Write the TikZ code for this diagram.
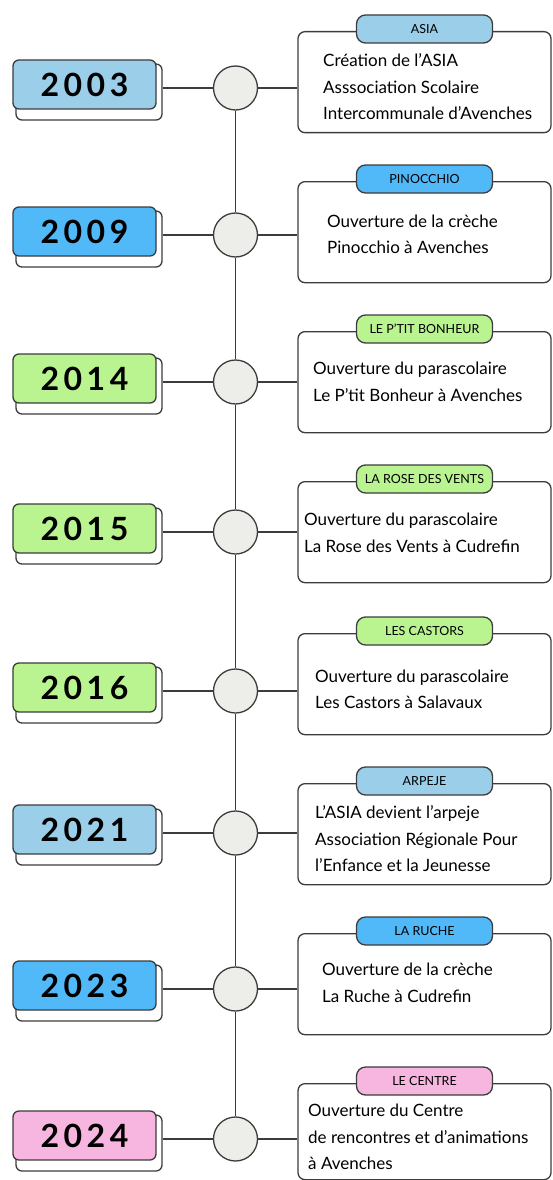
\documentclass[tikz,border=0pt]{standalone}
\usepackage{fontspec}
\setmainfont{Lato}
\newfontfamily\yearfont{Lato}[LetterSpace=14]
\definecolor{asiablue}{RGB}{155,206,233}
\definecolor{skyblue}{RGB}{82,185,249}
\definecolor{leafgreen}{RGB}{185,244,144}
\definecolor{rosepink}{RGB}{247,182,223}
\definecolor{dotgray}{RGB}{237,237,233}
\definecolor{inkgray}{RGB}{60,60,60}
\begin{document}
\begin{tikzpicture}[x=1pt,y=-1pt,
  inkline/.style={draw=inkgray,line width=1.3pt},
  shadowbox/.style={inkline,fill=white,rounded corners=6pt,minimum width=146,minimum height=56},
  yearbox/.style={inkline,rounded corners=6pt,minimum width=143,minimum height=49,font=\yearfont\bfseries\fontsize{32}{32}\selectfont},
  yeardot/.style={inkline,circle,fill=dotgray,minimum size=44,inner sep=0pt},
  card/.style={inkline,rounded corners=7pt,minimum width=253,minimum height=101,anchor=north},
  tagbox/.style={inkline,rounded corners=9pt,minimum width=136,minimum height=28,inner sep=0pt,font=\fontsize{12.5}{12.5}\selectfont},
  desc/.style={anchor=west,align=left,inner sep=0pt,font=\fontsize{17}{26.5}\selectfont}]
\useasboundingbox (0,0) rectangle (552,1180);

\node[shadowbox] (s1) at (89,92) {};
\node[yearbox,fill=asiablue] (y1) at (84.5,84.5) {2003};
\node[yeardot] (c1) at (235.5,88) {};
\node[card] (b1) at (424.5,31) {};
\node[tagbox,fill=asiablue] (t1) at ([yshift=2pt]b1.north) {ASIA};
\node[desc] (d1) at (323,87) {Création de l’ASIA\\Asssociation Scolaire\\Intercommunale d’Avenches};

\node[shadowbox] (s2) at (89,239) {};
\node[yearbox,fill=skyblue] (y2) at (84.5,231.5) {2009};
\node[yeardot] (c2) at (235.5,235) {};
\node[card] (b2) at (424.5,181) {};
\node[tagbox,fill=skyblue] (t2) at ([yshift=2pt]b2.north) {PINOCCHIO};
\node[desc] (d2) at (327,234.5) {Ouverture de la crèche\\Pinocchio à Avenches};

\node[shadowbox] (s3) at (89,386) {};
\node[yearbox,fill=leafgreen] (y3) at (84.5,378.5) {2014};
\node[yeardot] (c3) at (235.5,382) {};
\node[card] (b3) at (424.5,331) {};
\node[tagbox,fill=leafgreen] (t3) at ([yshift=2pt]b3.north) {LE P’TIT BONHEUR};
\node[desc] (d3) at (313,382) {Ouverture du parascolaire\\Le P’tit Bonheur à Avenches};

\node[shadowbox] (s4) at (89,536) {};
\node[yearbox,fill=leafgreen] (y4) at (84.5,528.5) {2015};
\node[yeardot] (c4) at (235.5,532) {};
\node[card] (b4) at (424.5,481) {};
\node[tagbox,fill=leafgreen] (t4) at ([yshift=2pt]b4.north) {LA ROSE DES VENTS};
\node[desc] (d4) at (304,533) {Ouverture du parascolaire\\La Rose des Vents à Cudrefin};

\node[shadowbox] (s5) at (89,695) {};
\node[yearbox,fill=leafgreen] (y5) at (84.5,687.5) {2016};
\node[yeardot] (c5) at (235.5,691) {};
\node[card] (b5) at (424.5,633) {};
\node[tagbox,fill=leafgreen] (t5) at ([yshift=2pt]b5.north) {LES CASTORS};
\node[desc] (d5) at (315,689.5) {Ouverture du parascolaire\\Les Castors à Salavaux};

\node[shadowbox] (s6) at (89,837) {};
\node[yearbox,fill=asiablue] (y6) at (84.5,829.5) {2021};
\node[yeardot] (c6) at (235.5,833) {};
\node[card] (b6) at (424.5,783) {};
\node[tagbox,fill=asiablue] (t6) at ([yshift=2pt]b6.north) {ARPEJE};
\node[desc] (d6) at (315,839) {L’ASIA devient l’arpeje\\Association Régionale Pour\\l’Enfance et la Jeunesse};

\node[shadowbox] (s7) at (89,993) {};
\node[yearbox,fill=skyblue] (y7) at (84.5,985.5) {2023};
\node[yeardot] (c7) at (235.5,989) {};
\node[card] (b7) at (424.5,933) {};
\node[tagbox,fill=skyblue] (t7) at ([yshift=2pt]b7.north) {LA RUCHE};
\node[desc] (d7) at (322,983) {Ouverture de la crèche\\La Ruche à Cudrefin};

\node[shadowbox] (s8) at (89,1143) {};
\node[yearbox,fill=rosepink] (y8) at (84.5,1135.5) {2024};
\node[yeardot] (c8) at (235.5,1139) {};
\node[card,minimum height=96] (b8) at (424.5,1083) {};
\node[tagbox,fill=rosepink] (t8) at ([yshift=2pt]b8.north) {LE CENTRE};
\node[desc] (d8) at (308,1137) {Ouverture du Centre\\de rencontres et d’animations\\à Avenches};

\draw[inkline] (c1.south) -- (c2.north) (c2.south) -- (c3.north) (c3.south) -- (c4.north)
  (c4.south) -- (c5.north) (c5.south) -- (c6.north) (c6.south) -- (c7.north) (c7.south) -- (c8.north);
\draw[inkline] (c1.west -| s1.east) -- (c1.west) (c1.east) -- (c1.east -| b1.west);
\draw[inkline] (c2.west -| s2.east) -- (c2.west) (c2.east) -- (c2.east -| b2.west);
\draw[inkline] (c3.west -| s3.east) -- (c3.west) (c3.east) -- (c3.east -| b3.west);
\draw[inkline] (c4.west -| s4.east) -- (c4.west) (c4.east) -- (c4.east -| b4.west);
\draw[inkline] (c5.west -| s5.east) -- (c5.west) (c5.east) -- (c5.east -| b5.west);
\draw[inkline] (c6.west -| s6.east) -- (c6.west) (c6.east) -- (c6.east -| b6.west);
\draw[inkline] (c7.west -| s7.east) -- (c7.west) (c7.east) -- (c7.east -| b7.west);
\draw[inkline] (c8.west -| s8.east) -- (c8.west) (c8.east) -- (c8.east -| b8.west);
\end{tikzpicture}
\end{document}
